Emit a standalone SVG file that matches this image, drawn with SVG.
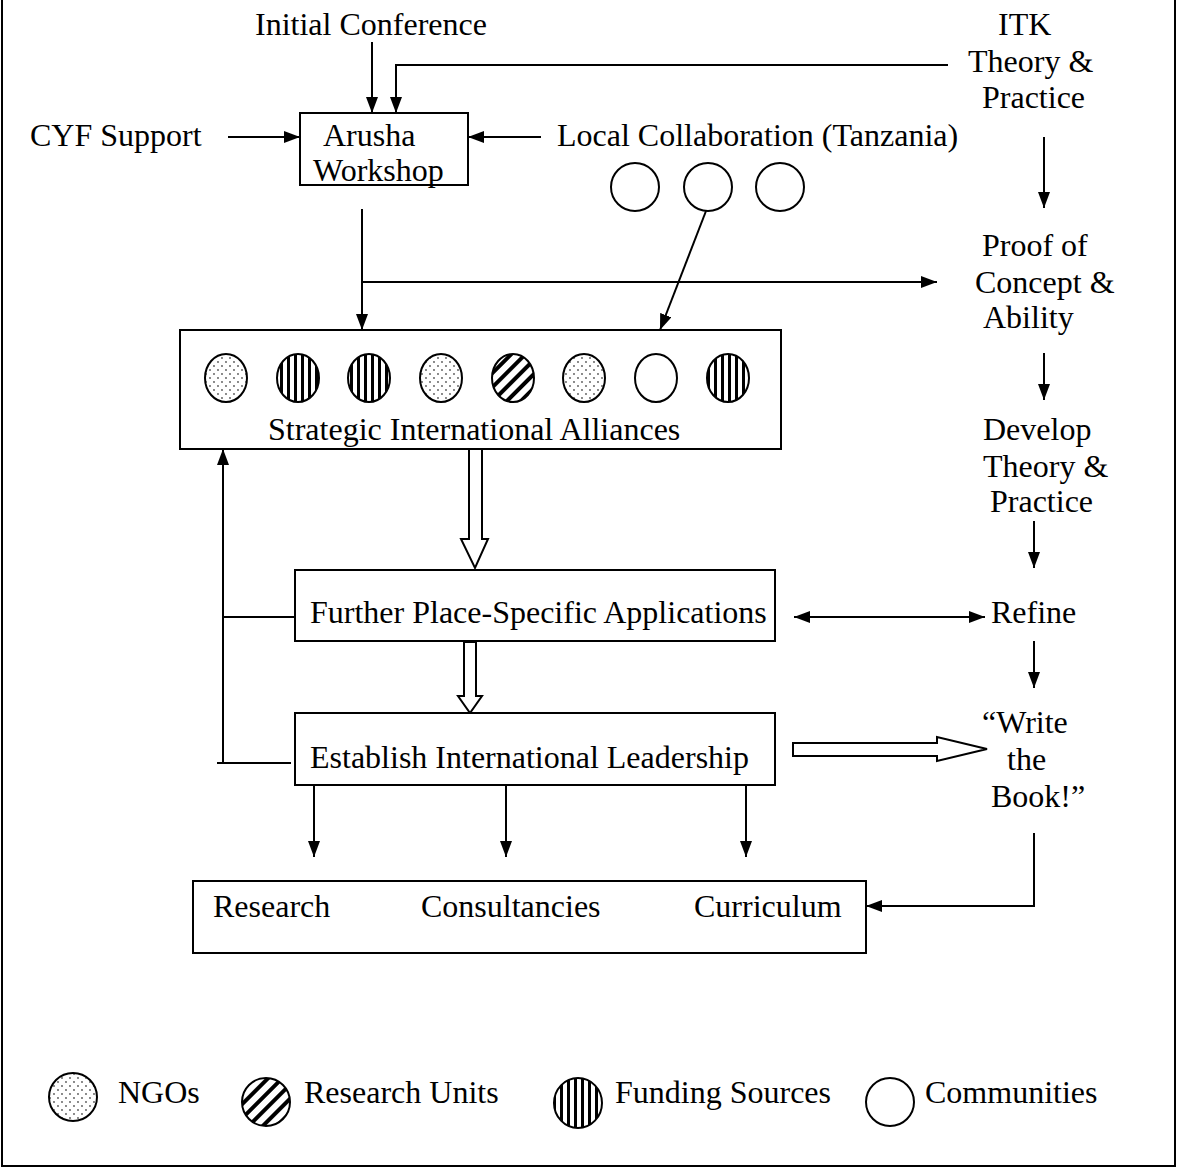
<svg xmlns="http://www.w3.org/2000/svg" width="1177" height="1168" viewBox="0 0 1177 1168">
<style>
text{font-family:"Liberation Serif","Times New Roman",serif;font-size:32px;fill:#000}
.box{fill:#fff;stroke:#000;stroke-width:2}
.ln{fill:none;stroke:#000;stroke-width:2}
.arr{fill:none;stroke:#000;stroke-width:2;marker-end:url(#ah)}
.hollow{fill:#fff;stroke:#000;stroke-width:2;stroke-linejoin:miter}
.c{stroke:#000;stroke-width:2}
.ngo{fill:url(#dots)}
.ru{fill:url(#diag)}
.fs{fill:url(#vert)}
.cm{fill:#fff}
</style>
<defs>
<marker id="ah" viewBox="0 0 16 12" refX="16" refY="6" markerWidth="16" markerHeight="12" markerUnits="userSpaceOnUse" orient="auto-start-reverse">
<path d="M0,0 L16,6 L0,12 z" fill="#000"/>
</marker>
<pattern id="dots" width="8" height="8" patternUnits="userSpaceOnUse">
<rect width="8" height="8" fill="#fff"/>
<circle cx="2" cy="2" r="0.9" fill="#555"/>
<circle cx="6" cy="6" r="0.9" fill="#555"/>
</pattern>
<pattern id="diag" width="10" height="10" patternUnits="userSpaceOnUse" patternTransform="rotate(45)">
<rect width="10" height="10" fill="#fff"/>
<rect width="4" height="10" fill="#000"/>
</pattern>
<pattern id="vert" width="7" height="7" patternUnits="userSpaceOnUse">
<rect width="7" height="7" fill="#fff"/>
<rect width="3" height="7" fill="#000"/>
</pattern>
</defs>
<rect width="1177" height="1168" fill="#fff"/>
<path class="ln" d="M2,0 V1166 H1175 V0"/>

<g id="connectors">
<line class="arr" x1="372" y1="42" x2="372" y2="113"/>
<path class="arr" d="M948,65 H396 V113"/>
<line class="arr" x1="228" y1="137" x2="300" y2="137"/>
<line class="arr" x1="541" y1="137" x2="468" y2="137"/>
<line class="arr" x1="362" y1="209" x2="362" y2="330"/>
<line class="arr" x1="362" y1="282" x2="937" y2="282"/>
<line class="arr" x1="706" y1="211" x2="660" y2="330"/>
<line class="arr" x1="1044" y1="137" x2="1044" y2="208"/>
<line class="arr" x1="1044" y1="353" x2="1044" y2="400"/>
<line class="arr" x1="1034" y1="521" x2="1034" y2="568"/>
<line class="arr" x1="794" y1="617" x2="985" y2="617" marker-start="url(#ah)"/>
<line class="arr" x1="1034" y1="641" x2="1034" y2="688"/>
<path class="arr" d="M1034,833 V906 H866"/>
<line class="arr" x1="314" y1="785" x2="314" y2="857"/>
<line class="arr" x1="506" y1="785" x2="506" y2="857"/>
<line class="arr" x1="746" y1="785" x2="746" y2="857"/>
<line class="ln" x1="217" y1="763" x2="291" y2="763"/>
<line class="arr" x1="223" y1="763" x2="223" y2="449"/>
<line class="ln" x1="223" y1="617" x2="295" y2="617"/>
<polygon class="hollow" points="469,449 482,449 482,539 488,539 475,568 461,539 469,539"/>
<polygon class="hollow" points="464,642 476,642 476,696 482,696 470,713 458,696 464,696"/>
<polygon class="hollow" points="793,743 937,743 937,737 987,749 937,761 937,756 793,756"/>
</g>

<g id="initial-conference"><text x="255" y="35">Initial Conference</text></g>
<g id="itk"><text x="998" y="35">ITK</text><text x="968" y="72">Theory &amp;</text><text x="982" y="108">Practice</text></g>
<g id="cyf-support"><text x="30" y="146">CYF Support</text></g>
<g id="arusha-workshop"><rect class="box" x="300" y="113" width="168" height="72"/><text x="323" y="146">Arusha</text><text x="313" y="181">Workshop</text></g>
<g id="local-collaboration"><text x="557" y="146">Local Collaboration (Tanzania)</text>
<ellipse class="c cm" cx="635" cy="187" rx="24" ry="24"/>
<ellipse class="c cm" cx="708" cy="187" rx="24" ry="24"/>
<ellipse class="c cm" cx="780" cy="187" rx="24" ry="24"/></g>
<g id="proof"><text x="982" y="256">Proof of</text><text x="975" y="293">Concept &amp;</text><text x="983" y="328">Ability</text></g>
<g id="develop"><text x="983" y="440">Develop</text><text x="983" y="477">Theory &amp;</text><text x="990" y="512">Practice</text></g>
<g id="alliances"><rect class="box" x="180" y="330" width="601" height="119"/>
<ellipse class="c ngo" cx="226" cy="378" rx="21" ry="24"/>
<ellipse class="c fs" cx="298" cy="378" rx="21" ry="24"/>
<ellipse class="c fs" cx="369" cy="378" rx="21" ry="24"/>
<ellipse class="c ngo" cx="441" cy="378" rx="21" ry="24"/>
<ellipse class="c ru" cx="513" cy="378" rx="21" ry="24"/>
<ellipse class="c ngo" cx="584" cy="378" rx="21" ry="24"/>
<ellipse class="c cm" cx="656" cy="378" rx="21" ry="24"/>
<ellipse class="c fs" cx="728" cy="378" rx="21" ry="24"/>
<text x="268" y="440">Strategic International Alliances</text></g>
<g id="further"><rect class="box" x="295" y="570" width="480" height="71"/><text x="310" y="623">Further Place-Specific Applications</text></g>
<g id="refine"><text x="991" y="623">Refine</text></g>
<g id="establish"><rect class="box" x="295" y="713" width="480" height="72"/><text x="310" y="768">Establish International Leadership</text></g>
<g id="write-book"><text x="982" y="733">“Write</text><text x="1007" y="770">the</text><text x="991" y="807">Book!”</text></g>
<g id="outputs"><rect class="box" x="193" y="881" width="673" height="72"/>
<text x="213" y="917">Research</text><text x="421" y="917">Consultancies</text><text x="694" y="917">Curriculum</text></g>
<g id="legend">
<ellipse class="c ngo" cx="73" cy="1097" rx="24" ry="24"/><text x="118" y="1103">NGOs</text>
<ellipse class="c ru" cx="266" cy="1102" rx="24" ry="24"/><text x="304" y="1103">Research Units</text>
<ellipse class="c fs" cx="578" cy="1103" rx="24" ry="25"/><text x="615" y="1103">Funding Sources</text>
<ellipse class="c cm" cx="890" cy="1102" rx="24" ry="24"/><text x="925" y="1103">Communities</text>
</g>
</svg>
